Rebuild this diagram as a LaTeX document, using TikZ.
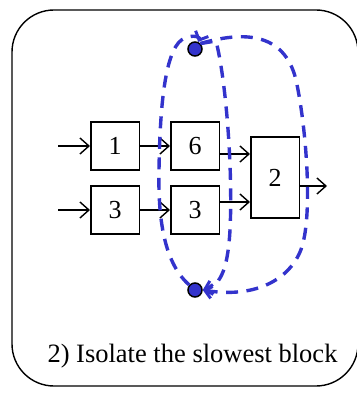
\documentclass[tikz,border=0pt]{standalone}
\usepackage{fontspec}
\setmainfont{Liberation Serif}
\usetikzlibrary{arrows.meta}

\begin{document}
\begin{tikzpicture}[x=1pt, y=-1pt,
		blockbox/.style={draw, line width=1.5pt, inner sep=0pt, font=\rmfamily\fontsize{26}{30}\selectfont},
		flow/.style={line width=1.4pt, -{Straight Barb[length=9pt, width=16pt, line width=1.4pt]}},
		loopline/.style={draw=loopblue, line width=3.4pt, dash pattern=on 12pt off 8.5pt, -{Straight Barb[length=7pt, width=14pt, line width=3pt]}},
		dot/.style={circle, draw, line width=1.5pt, fill=loopblue, minimum size=14pt, inner sep=0pt}]
	\definecolor{loopblue}{RGB}{51,51,204}
	\useasboundingbox (0,0) rectangle (356,395);
	% Outer frame
	\draw[line width=1.4pt, rounded corners=42pt] (12,10) rectangle (358,386);
	% Blocks
	\node[blockbox, minimum width=48.5pt, minimum height=48pt] (one) at (115,146) {1};
	\node[blockbox, minimum width=48.5pt, minimum height=48pt] (six) at (195,146) {6};
	\node[blockbox, minimum width=48.5pt, minimum height=48pt] (threeA) at (115,210) {3};
	\node[blockbox, minimum width=48.5pt, minimum height=48pt] (threeB) at (195,210) {3};
	\node[blockbox, minimum width=48.5pt, minimum height=81pt] (two) at (275,177.5) {2};
	% Inputs and output
	\coordinate (inA) at (58,146);
	\coordinate (inB) at (58,210);
	\coordinate (out) at (327,186);
	\draw[flow] (inA) -- (one);
	\draw[flow] (inB) -- (threeA);
	\draw[flow] (one) -- (six);
	\draw[flow] (threeA) -- (threeB);
	\draw[flow] (six.east |- 0,154) -- (two.west |- 0,154);
	\draw[flow] (threeB.east |- 0,202) -- (two.west |- 0,202);
	\draw[flow] (two.east |- out) -- (out);
	% Isolating loops
	\node[dot] (top) at (195,49) {};
	\node[dot] (bottom) at (195,290) {};
	\draw[loopline] (bottom) .. controls (163,262) and (158,215) .. (159,170)
		.. controls (160,100) and (166,45) .. (185,38)
		.. controls (195,34) and (200,38) .. (top);
	\draw[loopline] (top.north east) -- (216,41)
		.. controls (226,80) and (233,170) .. (230,230)
		.. controls (228,265) and (222,285) .. (bottom.east);
	\draw[loopline] (top.north east) .. controls (240,32) and (284,30) .. (296,80)
		.. controls (306,125) and (314,220) .. (300,252)
		.. controls (287,282) and (252,298) .. (bottom.east);
	% Caption
	\node[font=\rmfamily\fontsize{26.5}{30}\selectfont, anchor=base] (caption) at (192.5,362) {2) Isolate the slowest block};
\end{tikzpicture}
\end{document}
